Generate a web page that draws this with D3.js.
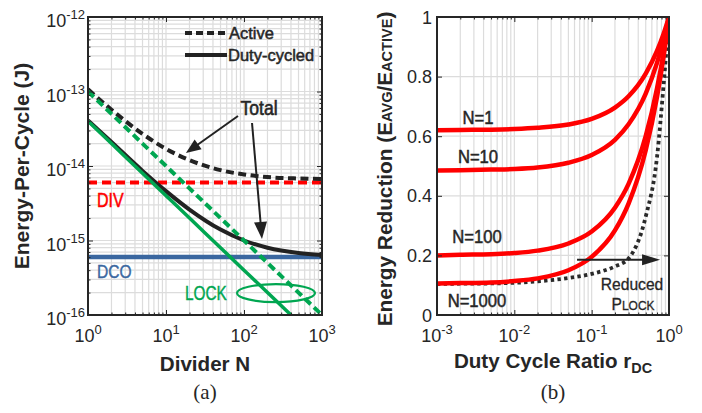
<!DOCTYPE html>
<html>
<head>
<meta charset="utf-8">
<script src="https://cdn.jsdelivr.net/npm/d3@7"></script>
<style>
  body { margin: 0; background: #fff; }
  svg text { font-family: "Liberation Sans", Arial, sans-serif; fill: #262626; }
</style>
</head>
<body>
<svg id="fig" width="702" height="413"></svg>
<script>
// ---------- data ----------
// (a) energy per cycle vs divider N
const dividerN    = [1, 2, 5, 10, 20, 50, 100, 200, 500, 1000];
const lockActive  = [1e-13, 5e-14, 2e-14, 1e-14, 5e-15, 2e-15, 1e-15, 5e-16, 2e-16, 1e-16];
const lockDuty    = [4e-14, 2e-14, 8e-15, 4e-15, 2e-15, 8e-16, 4e-16, 2e-16, 8e-17, 4e-17];
const totalActive = [1.07e-13, 5.7e-14, 2.7e-14, 1.7e-14, 1.2e-14, 8.8e-15, 7.7e-15, 7.1e-15, 6.8e-15, 6.7e-15];
const totalDuty   = [4.1e-14, 2.1e-14, 8.6e-15, 4.6e-15, 2.6e-15, 1.4e-15, 1.0e-15, 8.0e-16, 6.8e-16, 6.4e-16];
const flatN   = [1, 1000];
const divFlat = [6e-15, 6e-15];
const dcoFlat = [6e-16, 6e-16];

// (b) energy reduction vs duty cycle ratio
const dutyRatio = [0.001, 0.002, 0.005, 0.01, 0.02, 0.05, 0.1, 0.2, 0.3, 0.5, 0.7, 0.85, 1];
const redN1    = [0.620, 0.621, 0.622, 0.624, 0.628, 0.639, 0.658, 0.696, 0.734, 0.810, 0.886, 0.943, 1];
const redN10   = [0.485, 0.486, 0.488, 0.490, 0.495, 0.511, 0.537, 0.588, 0.640, 0.743, 0.846, 0.923, 1];
const redN100  = [0.200, 0.202, 0.204, 0.208, 0.216, 0.240, 0.280, 0.360, 0.440, 0.600, 0.760, 0.880, 1];
const redN1000 = [0.106, 0.107, 0.109, 0.114, 0.123, 0.150, 0.195, 0.284, 0.374, 0.553, 0.732, 0.866, 1];
const reducedLock = [0.104, 0.105, 0.106, 0.108, 0.113, 0.124, 0.138, 0.163, 0.190, 0.330, 0.530, 0.770, 1];
const curveNames = ["N=1", "N=10", "N=100", "N=1000"];
const yTicksB = [0, 0.2, 0.4, 0.6, 0.8, 1];

// ---------- setup ----------
const svg = d3.select("#fig");
const RED = "#ff0000", GREEN = "#00a651", BLUE = "#3a67a0", BLACK = "#222", AX = "#262626", GRID = "#dcdcdc";

const xA = d3.scaleLog().domain([1, 1000]).range([88, 322]);
const yA = d3.scaleLog().domain([1e-16, 1e-12]).range([315, 17]);
const xB = d3.scaleLog().domain([1e-3, 1]).range([437, 669]);
const yB = d3.scaleLinear().domain([0, 1]).range([315, 17]);

const isDecade = v => Math.abs(Math.log10(v) - Math.round(Math.log10(v))) < 1e-9;

// text helper, sx squeezes/stretches glyphs horizontally, heavy adds a thin outline
function txt(g, x, y, parts, o = {}) {
  const t = g.append("text")
    .attr("transform", `translate(${x},${y})` + (o.rot ? ` rotate(${o.rot})` : "") + (o.sx ? ` scale(${o.sx},1)` : ""))
    .attr("text-anchor", o.anchor || "start")
    .style("font-size", (o.size || 17) + "px")
    .style("font-weight", o.bold ? "bold" : "normal");
  if (o.fill) t.style("fill", o.fill);
  if (o.family) t.style("font-family", o.family);
  if (o.heavy) t.style("stroke", o.fill || "#262626").style("stroke-width", o.heavy);
  if (typeof parts === "string") parts = [{ t: parts }];
  parts.forEach(p => {
    const s = t.append("tspan").text(p.t);
    if (p.dy) s.attr("dy", p.dy);
    if (p.size) s.style("font-size", p.size + "px");
  });
  return t;
}

function arrow(g, x1, y1, x2, y2, len, half) {
  const a = Math.atan2(y2 - y1, x2 - x1), c = Math.cos(a), s = Math.sin(a);
  const bx = x2 - len * c, by = y2 - len * s;
  g.append("line").attr("x1", x1).attr("y1", y1).attr("x2", bx + 2 * c).attr("y2", by + 2 * s)
    .attr("stroke", BLACK).attr("stroke-width", 2);
  g.append("path")
    .attr("d", `M${x2},${y2}L${bx - half * s},${by + half * c}L${bx + half * s},${by - half * c}Z`)
    .attr("fill", BLACK);
}

function frame(id, x, y, xTicksAll, yTicksAll) {
  const [x0, x1] = x.range(), [y1, y0] = y.range();
  const g = svg.append("g");
  // grid
  g.selectAll(".gx").data(xTicksAll).join("line")
    .attr("x1", d => x(d)).attr("x2", d => x(d)).attr("y1", y0).attr("y2", y1)
    .attr("stroke", GRID).attr("stroke-width", 1.2);
  g.selectAll(".gy").data(yTicksAll).join("line")
    .attr("y1", d => y(d)).attr("y2", d => y(d)).attr("x1", x0).attr("x2", x1)
    .attr("stroke", GRID).attr("stroke-width", 1.2);
  svg.append("clipPath").attr("id", id).append("rect")
    .attr("x", x0).attr("y", y0).attr("width", x1 - x0).attr("height", y1 - y0);
  const plot = svg.append("g").attr("clip-path", `url(#${id})`);
  const ax = svg.append("g");
  return { g, plot, ax, x0, x1, y0, y1 };
}

function ticksBox(f, x, y, xTicksAll, yTicksAll, yMajorFn) {
  const xMaj = xTicksAll.filter(isDecade), xMin = xTicksAll.filter(v => !isDecade(v));
  const yMaj = yTicksAll.filter(yMajorFn), yMin = yTicksAll.filter(v => !yMajorFn(v));
  const put = (axis, tx, ty, vals, size) => {
    const a = f.ax.append("g").attr("transform", `translate(${tx},${ty})`)
      .call(axis.tickValues(vals).tickSize(-size).tickFormat(""));
    a.select(".domain").remove();
    a.selectAll("line").attr("stroke", AX).attr("stroke-width", 1);
  };
  [[xMaj, 5], [xMin, 2.5]].forEach(([v, s]) => {
    put(d3.axisBottom(x), 0, f.y1, v, s);
    put(d3.axisTop(x), 0, f.y0, v, s);
  });
  [[yMaj, 5], [yMin, 2.5]].forEach(([v, s]) => {
    if (!v.length) return;
    put(d3.axisLeft(y), f.x0, 0, v, s);
    put(d3.axisRight(y), f.x1, 0, v, s);
  });
  f.ax.append("rect").attr("x", f.x0).attr("y", f.y0)
    .attr("width", f.x1 - f.x0).attr("height", f.y1 - f.y0)
    .attr("fill", "none").attr("stroke", AX).attr("stroke-width", 2);
}

function powLabel(g, x, y, v, anchor) {
  txt(g, x, y, [{ t: "10" }, { t: String(Math.round(Math.log10(v))), size: 13, dy: -8 }], { anchor, size: 18 });
}

// ---------- panel (a) ----------
const xTA = xA.ticks(), yTA = yA.ticks();
const fa = frame("clipA", xA, yA, xTA, yTA);

const lineA = d3.line().x(d => xA(d[0])).y(d => yA(d[1])).curve(d3.curveMonotoneX);
const zipA = (xs, ys) => xs.map((v, i) => [v, ys[i]]);
const drawA = (xs, ys, color, w, dash) => fa.plot.append("path")
  .attr("d", lineA(zipA(xs, ys))).attr("fill", "none")
  .attr("stroke", color).attr("stroke-width", w).attr("stroke-dasharray", dash || null);

drawA(flatN, divFlat, RED, 4, "9,5");
drawA(flatN, dcoFlat, BLUE, 4.5);
drawA(dividerN, totalActive, BLACK, 4, "8,4.5");
drawA(dividerN, totalDuty, BLACK, 4);
drawA(dividerN, lockActive, GREEN, 4, "8,4.5");
drawA(dividerN, lockDuty, GREEN, 3.5);

// LOCK ellipse (centre in data units)
fa.plot.append("ellipse").attr("cx", xA(257)).attr("cy", yA(1.97e-16))
  .attr("rx", 39).attr("ry", 9).attr("fill", "none").attr("stroke", GREEN).attr("stroke-width", 2.2);

ticksBox(fa, xA, yA, xTA, yTA, isDecade);

xTA.filter(isDecade).forEach(v => powLabel(svg, xA(v), 342, v, "middle"));
yTA.filter(isDecade).forEach(v => powLabel(svg, 85, yA(v) + 10, v, "end"));

// legend
const lg = svg.append("g");
lg.append("line").attr("x1", 185).attr("x2", 227).attr("y1", 33).attr("y2", 33)
  .attr("stroke", BLACK).attr("stroke-width", 4).attr("stroke-dasharray", "7,4");
lg.append("line").attr("x1", 185).attr("x2", 227).attr("y1", 55).attr("y2", 55)
  .attr("stroke", BLACK).attr("stroke-width", 4);
txt(lg, 229, 39, "Active", { size: 16.5, heavy: 0.5 });
txt(lg, 228, 61, "Duty-cycled", { size: 16.5, heavy: 0.5 });

// annotations
txt(svg, 259, 115, "Total", { size: 20, anchor: "middle", sx: 0.88, heavy: 0.6 });
arrow(svg, xA(83.8), yA(4.69e-14), xA(18.0), yA(1.49e-14), 15, 6);
arrow(svg, xA(126.7), yA(3.78e-14), xA(170), yA(1.05e-15), 17, 6.5);
txt(svg, 97, 207, "DIV", { size: 20, sx: 0.8, fill: RED, heavy: 0.5 });
txt(svg, 97, 278, "DCO", { size: 19, sx: 0.82, fill: BLUE, heavy: 0.4 });
txt(svg, 185, 300, "LOCK", { size: 20.5, sx: 0.75, fill: GREEN, heavy: 0.4 });

txt(svg, 205, 371, "Divider N", { size: 20, bold: true, anchor: "middle", sx: 1.03 });
txt(svg, 205, 399, "(a)", { size: 21, anchor: "middle", family: "Liberation Serif, Times New Roman, serif" });
txt(svg, 29, 166, "Energy-Per-Cycle (J)", { size: 20, bold: true, anchor: "middle", rot: -90, sx: 1.05 });

// ---------- panel (b) ----------
const xTB = xB.ticks();
const fb = frame("clipB", xB, yB, xTB, yTicksB);
const lineB = d3.line().x((d, i) => xB(dutyRatio[i])).y(d => yB(d)).curve(d3.curveMonotoneX);

fb.plot.append("path").attr("d", lineB(reducedLock)).attr("fill", "none")
  .attr("stroke", "#2a2a2a").attr("stroke-width", 3.8).attr("stroke-dasharray", "3.4,3.3");
[redN1, redN10, redN100, redN1000].forEach(s => {
  fb.plot.append("path").attr("d", lineB(s)).attr("fill", "none")
    .attr("stroke", RED).attr("stroke-width", 4.5);
});

ticksBox(fb, xB, yB, xTB, yTicksB, () => true);
xTB.filter(isDecade).forEach(v => powLabel(svg, xB(v), 342, v, "middle"));
yTicksB.forEach(v => txt(svg, 432, yB(v) + 6.5, String(v), { size: 18, anchor: "end" }));

const nPos = [[478, 124], [478, 163], [477, 243], [477, 307]];
curveNames.forEach((n, i) => txt(svg, nPos[i][0], nPos[i][1], n, { size: 18.5, anchor: "middle", sx: 0.9, heavy: 0.5 }));

arrow(svg, xB(0.0647), yB(0.185), xB(0.767), yB(0.185), 18, 5.5);
txt(svg, 632, 290, "Reduced", { size: 17, anchor: "middle", sx: 0.92, heavy: 0.3 });
txt(svg, 633, 310, [{ t: "P" }, { t: "LOCK", size: 13 }], { size: 17, anchor: "middle", sx: 0.92, heavy: 0.3 });

txt(svg, 553, 368, [{ t: "Duty Cycle Ratio r" }, { t: "DC", size: 14, dy: 5 }], { size: 20, bold: true, anchor: "middle", sx: 1.03 });
txt(svg, 553, 399, "(b)", { size: 21, anchor: "middle", family: "Liberation Serif, Times New Roman, serif" });
txt(svg, 392, 169, [{ t: "Energy Reduction (E" }, { t: "AVG", size: 14 }, { t: "/E", size: 20 }, { t: "ACTIVE", size: 14 }, { t: ")", size: 20 }],
  { size: 20, bold: true, anchor: "middle", rot: -90, sx: 1.04 });
</script>
</body>
</html>
